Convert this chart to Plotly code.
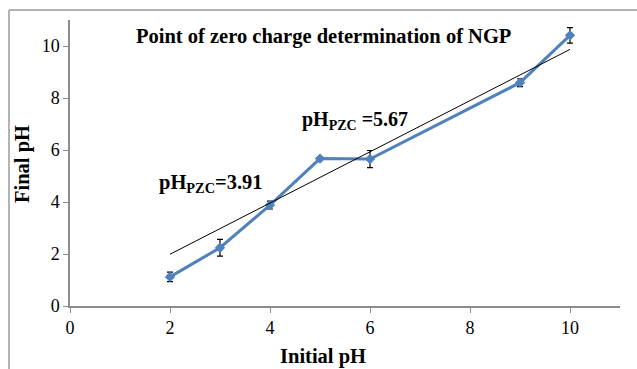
import plotly.graph_objects as go

# Measured data: initial vs final pH with standard deviations
initial_ph = [2, 3, 4, 5, 6, 9, 10]
final_ph = [1.12, 2.24, 3.88, 5.67, 5.65, 8.59, 10.41]
final_err = [0.18, 0.32, 0.15, 0.05, 0.33, 0.15, 0.30]

# Reference line (final pH = initial pH)
ref_x = [2, 10]
ref_y = [1.99, 9.87]

x_ticks = [0, 2, 4, 6, 8, 10]
y_ticks = [0, 2, 4, 6, 8, 10]

SERIF = "Liberation Serif"
AXIS_GRAY = "#8c8c8c"

fig = go.Figure()

fig.add_trace(go.Scatter(
    x=initial_ph, y=final_ph,
    mode="lines+markers",
    line=dict(color="#4F81BD", width=3),
    marker=dict(symbol="diamond", size=8, color="#4F81BD"),
    error_y=dict(type="data", array=final_err, visible=True,
                 color="black", thickness=1.2, width=3),
    showlegend=False,
))

fig.add_trace(go.Scatter(
    x=ref_x, y=ref_y,
    mode="lines",
    line=dict(color="black", width=1),
    showlegend=False,
))

fig.update_xaxes(
    range=[0, 11], tickvals=x_ticks, showgrid=False, zeroline=False,
    showline=True, linecolor=AXIS_GRAY, linewidth=1.5,
    ticks="outside", ticklen=5, tickcolor=AXIS_GRAY,
    tickfont=dict(family=SERIF, size=18, color="black"),
)
fig.update_yaxes(
    range=[0, 11], tickvals=y_ticks, showgrid=False, zeroline=False,
    showline=True, linecolor=AXIS_GRAY, linewidth=1.5,
    ticks="outside", ticklen=5, tickcolor=AXIS_GRAY,
    tickfont=dict(family=SERIF, size=18, color="black"),
)

# Chart title and axis titles, positioned in pixels relative to the plot area
annots = [
    dict(text="<b>Point of zero charge determination of NGP</b>",
         x=323, y=36, size=20.5, angle=0),
    dict(text="<b>Initial pH</b>", x=323, y=356, size=20.5, angle=0),
    dict(text="<b>Final pH</b>", x=22, y=164, size=20.5, angle=-90),
]
layout_annots = []
for a in annots:
    layout_annots.append(dict(
        text=a["text"], xref="paper", yref="paper",
        x=(a["x"] - 70) / 550, y=(306 - a["y"]) / 286,
        xanchor="center", yanchor="middle", showarrow=False,
        textangle=a["angle"],
        font=dict(family=SERIF, size=a["size"], color="black"),
    ))

# pH_PZC labels placed in data coordinates
layout_annots.append(dict(
    text="<b>pH<sub>PZC</sub>=3.91</b>", x=1.74, y=4.73, xref="x", yref="y",
    xanchor="left", yanchor="middle", showarrow=False,
    font=dict(family=SERIF, size=20.5, color="black"),
))
layout_annots.append(dict(
    text="<b>pH<sub>PZC</sub> =5.67</b>", x=4.6, y=7.15, xref="x", yref="y",
    xanchor="left", yanchor="middle", showarrow=False,
    font=dict(family=SERIF, size=20, color="black"),
))

# Outer chart frame (top and left edges)
frame_left = (9 - 70) / 550
frame_top = (306 - 10) / 286
shapes = [
    dict(type="line", xref="paper", yref="paper", x0=frame_left, x1=1.2,
         y0=frame_top, y1=frame_top, line=dict(color="#9a9a9a", width=1.5)),
    dict(type="line", xref="paper", yref="paper", x0=frame_left, x1=frame_left,
         y0=frame_top, y1=-0.3, line=dict(color="#9a9a9a", width=1.5)),
]

fig.update_layout(
    width=637, height=369,
    margin=dict(l=70, r=17, t=20, b=63),
    paper_bgcolor="white", plot_bgcolor="white",
    annotations=layout_annots, shapes=shapes,
)

fig.write_html("out.html")
